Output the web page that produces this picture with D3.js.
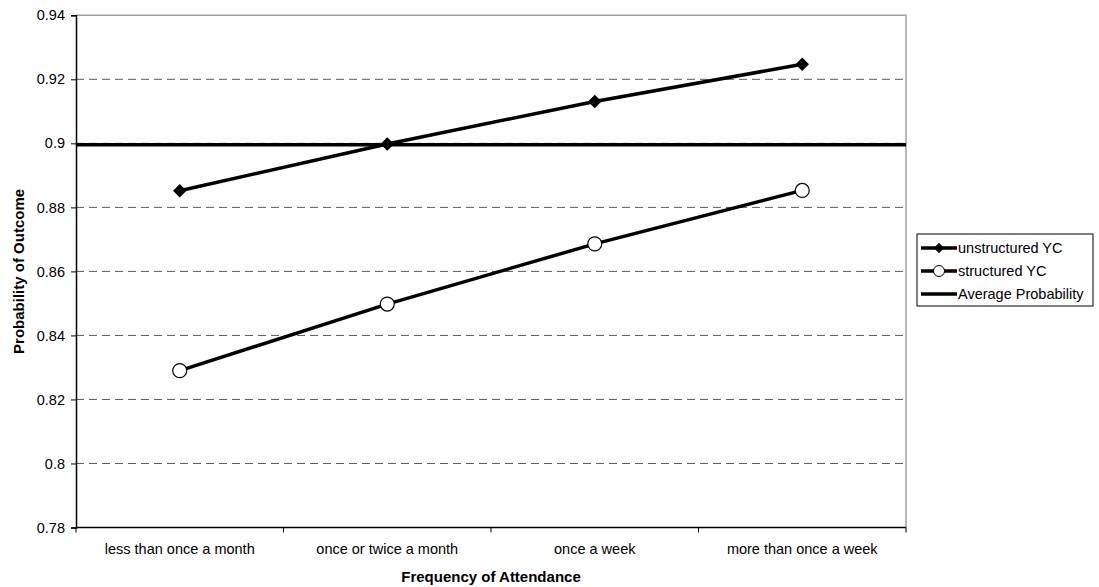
<!DOCTYPE html>
<html>
<head>
<meta charset="utf-8">
<script src="https://cdn.jsdelivr.net/npm/d3@7"></script>
<style>
  html, body { margin: 0; padding: 0; background: #fff; }
  svg { display: block; font-family: "Liberation Sans", Arial, sans-serif; }
</style>
</head>
<body>
<svg id="chart" width="1099" height="587"></svg>
<script>
// Attendance categories along the x axis
const categories = ["less than once a month", "once or twice a month", "once a week", "more than once a week"];
// Predicted probabilities per attendance level
const unstructuredYC = [0.8852, 0.8998, 0.9131, 0.9247];
const structuredYC = [0.8290, 0.8498, 0.8686, 0.8853];
const averageProbability = 0.8996;
// Y axis ticks
const yTicks = [0.78, 0.8, 0.82, 0.84, 0.86, 0.88, 0.9, 0.92, 0.94];
const yTickLabels = ["0.78", "0.8", "0.82", "0.84", "0.86", "0.88", "0.9", "0.92", "0.94"];
const seriesNames = ["unstructured YC", "structured YC", "Average Probability"];

const svg = d3.select("#chart");
const plot = { left: 76, right: 906, top: 15.3, bottom: 527.5 };

const x = d3.scaleBand().domain(categories).range([plot.left, plot.right]).padding(0);
const y = d3.scaleLinear().domain([0.78, 0.94]).range([plot.bottom, plot.top]);
const cx = d => x(d) + x.bandwidth() / 2;

// Dashed horizontal gridlines
svg.append("g").selectAll("line")
  .data(yTicks.filter(t => t > 0.78 && t < 0.94))
  .join("line")
  .attr("x1", plot.left).attr("x2", plot.right)
  .attr("y1", d => y(d)).attr("y2", d => y(d))
  .attr("stroke", "#5a5a5a").attr("stroke-width", 1)
  .attr("stroke-dasharray", "8,5");

// Top and right frame
svg.append("path")
  .attr("d", `M${plot.left},${y(0.94)}H${plot.right}V${plot.bottom}`)
  .attr("fill", "none").attr("stroke", "#a0a0a0").attr("stroke-width", 1.5);

// Y axis
const yAxis = d3.axisLeft(y).tickValues(yTicks)
  .tickFormat((d, i) => yTickLabels[i]).tickSize(5).tickPadding(6);
const gy = svg.append("g").attr("transform", `translate(${plot.left},0)`).call(yAxis);
gy.select(".domain").attr("stroke", "#000").attr("stroke-width", 1.5);
gy.selectAll(".tick line").attr("stroke", "#000");
gy.selectAll("text").attr("font-size", 14.5).attr("fill", "#000")
  .attr("font-family", "Liberation Sans, Arial, sans-serif");

// X axis: ticks at category boundaries, labels centred in each band
const gx = svg.append("g").attr("transform", `translate(0,${plot.bottom})`);
gx.append("line").attr("x1", plot.left).attr("x2", plot.right)
  .attr("stroke", "#000").attr("stroke-width", 1.5);
const boundaries = categories.map(c => x(c)).concat([plot.right]);
gx.selectAll("line.tk").data(boundaries).join("line").attr("class", "tk")
  .attr("x1", d => d).attr("x2", d => d).attr("y1", 0).attr("y2", 5)
  .attr("stroke", "#000");
gx.selectAll("text").data(categories).join("text")
  .attr("x", d => cx(d)).attr("y", 26)
  .attr("text-anchor", "middle").attr("font-size", 14.5).text(d => d);

// Axis titles
svg.append("text").attr("x", (plot.left + plot.right) / 2).attr("y", 582)
  .attr("text-anchor", "middle").attr("font-size", 15).attr("font-weight", "bold")
  .text("Frequency of Attendance");
svg.append("text")
  .attr("transform", `translate(24,${(plot.top + plot.bottom) / 2}) rotate(-90)`)
  .attr("text-anchor", "middle").attr("font-size", 15).attr("font-weight", "bold")
  .text("Probability of Outcome");

// Average probability reference line
svg.append("line")
  .attr("x1", plot.left).attr("x2", plot.right)
  .attr("y1", y(averageProbability)).attr("y2", y(averageProbability))
  .attr("stroke", "#000").attr("stroke-width", 3.5);

const line = d3.line().x((d, i) => cx(categories[i])).y(d => y(d));

// Unstructured series
svg.append("path").datum(unstructuredYC).attr("d", line)
  .attr("fill", "none").attr("stroke", "#000").attr("stroke-width", 3.5);
const diamond = d3.symbol().type(d3.symbolDiamond2).size(115);
svg.append("g").selectAll("path").data(unstructuredYC).join("path")
  .attr("d", diamond)
  .attr("transform", (d, i) => `translate(${cx(categories[i])},${y(d)})`)
  .attr("fill", "#000");

// Structured series
svg.append("path").datum(structuredYC).attr("d", line)
  .attr("fill", "none").attr("stroke", "#000").attr("stroke-width", 3.5);
svg.append("g").selectAll("circle").data(structuredYC).join("circle")
  .attr("cx", (d, i) => cx(categories[i])).attr("cy", d => y(d)).attr("r", 7)
  .attr("fill", "#fff").attr("stroke", "#000").attr("stroke-width", 1.2);

// Legend
const lg = svg.append("g").attr("transform", "translate(917,234)");
lg.append("rect").attr("width", 176).attr("height", 72)
  .attr("fill", "#fff").attr("stroke", "#000").attr("stroke-width", 1);
const rows = lg.selectAll("g").data(seriesNames).join("g")
  .attr("transform", (d, i) => `translate(0,${14 + i * 23})`);
rows.append("line").attr("x1", 4).attr("x2", 40)
  .attr("stroke", "#000").attr("stroke-width", 3.5);
rows.filter((d, i) => i === 0).append("path")
  .attr("d", d3.symbol().type(d3.symbolDiamond2).size(70)())
  .attr("transform", "translate(22,0)").attr("fill", "#000");
rows.filter((d, i) => i === 1).append("circle").attr("cx", 22).attr("r", 5.5)
  .attr("fill", "#fff").attr("stroke", "#000");
rows.append("text").attr("x", 41).attr("y", 5).attr("font-size", 14.5).text(d => d);
</script>
</body>
</html>
